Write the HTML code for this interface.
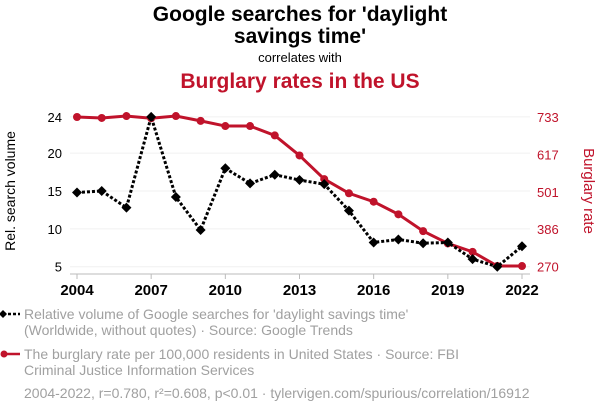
<!DOCTYPE html>
<html><head><meta charset="utf-8"><style>
body{margin:0;background:#fff;width:600px;height:414px;overflow:hidden;font-family:"Liberation Sans",sans-serif}
</style></head><body>
<svg id="c" width="600" height="414" xmlns="http://www.w3.org/2000/svg">
<text x="300" y="21" text-anchor="middle" font-size="21" font-weight="bold" fill="#000">Google searches for 'daylight</text>
<text x="300" y="43" text-anchor="middle" font-size="21" font-weight="bold" fill="#000">savings time'</text>
<text x="300" y="62" text-anchor="middle" font-size="13" fill="#000">correlates with</text>
<text x="300" y="88" text-anchor="middle" font-size="21" font-weight="bold" fill="#c0132b">Burglary rates in the US</text>
<text transform="translate(15,191) rotate(-90)" text-anchor="middle" font-size="14" fill="#000">Rel. search volume</text>
<text transform="translate(584,191) rotate(90)" text-anchor="middle" font-size="15" fill="#c0132b">Burglary rate</text>
<g id="grid"></g><g id="axes"></g><g id="series"></g>
<g>
<line x1="3" y1="314" x2="20" y2="314" stroke="#000" stroke-width="2.5" stroke-dasharray="3,2"/>
<path d="M3 310 L7 314 L3 318 L-1 314Z" fill="#000"/>
<text x="24" y="319" font-size="14" fill="#a0a0a0">Relative volume of Google searches for 'daylight savings time'</text>
<text x="24" y="335" font-size="14" fill="#a0a0a0">(Worldwide, without quotes) · Source: Google Trends</text>
</g>
<g>
<line x1="3" y1="354" x2="20" y2="354" stroke="#c0132b" stroke-width="2.5"/>
<circle cx="4" cy="354" r="3.5" fill="#c0132b"/>
<text x="24" y="359" font-size="14" fill="#a0a0a0">The burglary rate per 100,000 residents in United States · Source: FBI</text>
<text x="24" y="375" font-size="14" fill="#a0a0a0">Criminal Justice Information Services</text>
</g>
<text x="24" y="398" font-size="14" fill="#a0a0a0">2004-2022, r=0.780, r²=0.608, p&lt;0.01 · tylervigen.com/spurious/correlation/16912</text>
</svg>
<script>
const years=[2004,2005,2006,2007,2008,2009,2010,2011,2012,2013,2014,2015,2016,2017,2018,2019,2020,2021,2022];
const searches=[14.8,15.0,12.8,24.8,14.2,9.85,18.0,16.0,17.15,16.45,15.9,12.4,8.2,8.6,8.1,8.2,6.0,5.0,7.7];
const burglary=[733,730,736,729,736,721,705,705,676,614,541,497,471,432,380,342,316,272,272];
const leftTickVals=[5,10,15,20,24.8];
const leftTickLabels=["5","10","15","20","24"];
const rightTickVals=[270,386,501,617,733];
const xTickYears=[2004,2007,2010,2013,2016,2019,2022];
const NS="http://www.w3.org/2000/svg";
const x=y=>77+(y-2004)*(445/18);
const yl=v=>266.7-(v-5)*7.57;
const yr=v=>266.7-(v-270)*(149.7/463);
function mk(tag,attrs,parent){const e=document.createElementNS(NS,tag);for(const k in attrs)e.setAttribute(k,attrs[k]);parent.appendChild(e);return e;}
const grid=document.getElementById('grid'),axes=document.getElementById('axes'),ser=document.getElementById('series');
leftTickVals.forEach((v,i)=>{
  const g=mk('line',{x1:70,x2:530,y1:yl(v),y2:yl(v),stroke:'#f0f0f0','stroke-width':1},grid);
  
  
  const t=mk('text',{x:62,y:yl(v)+5,'text-anchor':'end','font-size':13,fill:'#000'},axes);
  t.textContent=leftTickLabels[i];
  
  
});
rightTickVals.forEach(v=>{
  const t=mk('text',{x:537,y:yr(v)+5,'font-size':13,fill:'#c0132b'},axes);
  t.textContent=String(v);
  
  
});
const ax=mk('line',{x1:70,x2:530,y1:274,y2:274,stroke:'#bbb','stroke-width':1},axes);


xTickYears.forEach(yy=>{
  mk('line',{x1:x(yy),x2:x(yy),y1:274,y2:279,stroke:'#bbb'},axes);
  const t=mk('text',{x:x(yy),y:295,'text-anchor':'middle','font-size':15,'font-weight':'bold',fill:'#000'},axes);
  t.textContent=String(yy);
  
  
});
const rp=mk('polyline',{points:years.map((yy,i)=>x(yy)+','+yr(burglary[i])).join(' '),fill:'none',stroke:'#c0132b','stroke-width':3},ser);


years.forEach((yy,i)=>{
  const c=mk('circle',{cx:x(yy),cy:yr(burglary[i]),r:4,fill:'#c0132b'},ser);
  
  
});
const bp=mk('polyline',{points:years.map((yy,i)=>x(yy)+','+yl(searches[i])).join(' '),fill:'none',stroke:'#000','stroke-width':3,'stroke-dasharray':'3,2'},ser);


years.forEach((yy,i)=>{
  const cx=x(yy),cy=yl(searches[i]);
  const d=mk('path',{d:`M${cx} ${cy-5} L${cx+5} ${cy} L${cx} ${cy+5} L${cx-5} ${cy}Z`,fill:'#000'},ser);
  
  
});
</script>
</body></html>
